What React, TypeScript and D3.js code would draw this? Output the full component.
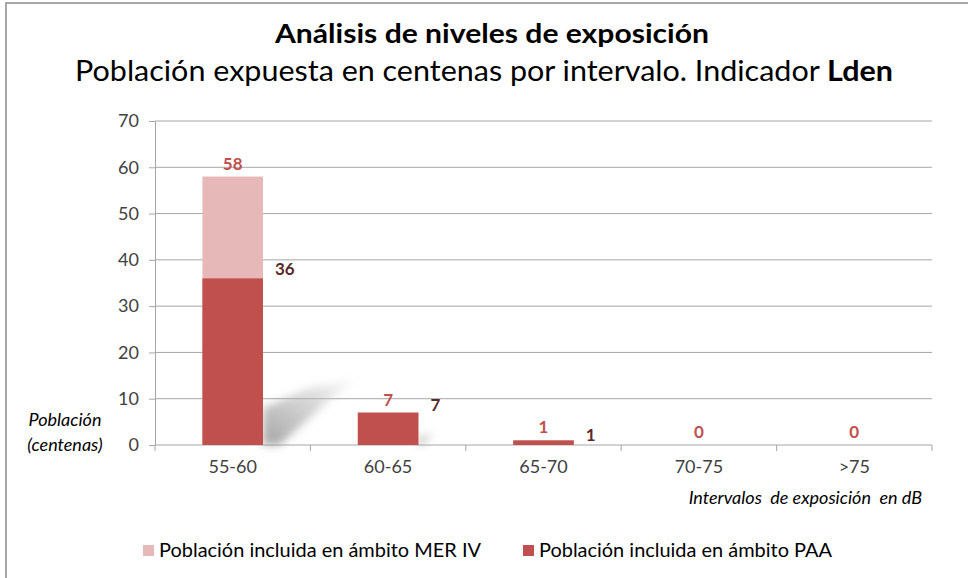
import React, { useRef, useEffect } from 'react'
import { select, scaleBand, scaleLinear, axisLeft } from 'd3'

// chart values
const categories = ['55-60', '60-65', '65-70', '70-75', '>75']
const merIV = [58, 7, 1, 0, 0] // Población incluida en ámbito MER IV
const paa = [36, 7, 1, 0, 0] // Población incluida en ámbito PAA
const yTicks = [0, 10, 20, 30, 40, 50, 60, 70]

const title = 'Análisis de niveles de exposición'
const subtitleMain = 'Población expuesta en centenas por intervalo. Indicador '
const subtitleBold = 'Lden'
const legendLabels = ['Población incluida en ámbito MER IV', 'Población incluida en ámbito PAA']

const FONT = 'Lato, "Open Sans", sans-serif'
const PINK = '#e6b9b8'
const RED = '#c0504d'
const DARK_LABEL = '#5a2a2a'

const App = () => {
    const svgRef = useRef<SVGSVGElement>(null)

    useEffect(() => {
        const svg = select(svgRef.current)
        svg.selectAll('*').remove()

        const W = 968
        const H = 578
        const plot = { left: 155, right: 932, top: 121, bottom: 445 }

        // outer frame (right / bottom edges fall off the picture)
        svg.append('rect')
            .attr('x', 6).attr('y', 3)
            .attr('width', W + 20).attr('height', H + 20)
            .attr('fill', '#fff')
            .attr('stroke', '#8a8a8a')
            .attr('stroke-width', 1.5)

        // titles
        svg.append('text')
            .attr('x', 492).attr('y', 43)
            .attr('text-anchor', 'middle')
            .attr('font-family', FONT)
            .attr('font-size', 26)
            .attr('font-weight', 'bold')
            .attr('fill', '#000')
            .attr('textLength', 434)
            .attr('lengthAdjust', 'spacingAndGlyphs')
            .text(title)

        const sub = svg.append('text')
            .attr('x', 484).attr('y', 81)
            .attr('text-anchor', 'middle')
            .attr('font-family', FONT)
            .attr('font-size', 28)
            .attr('fill', '#000')
            .attr('textLength', 818)
            .attr('lengthAdjust', 'spacingAndGlyphs')
        sub.append('tspan').text(subtitleMain)
        sub.append('tspan').attr('font-weight', 'bold').text(subtitleBold)

        // scales
        const x = scaleBand<string>()
            .domain(categories)
            .range([plot.left, plot.right])
            .paddingInner(0)
            .paddingOuter(0)
        const y = scaleLinear()
            .domain([0, 70])
            .range([plot.bottom, plot.top])

        const barW = x.bandwidth() * 0.39
        const barX = (c: string) => (x(c) as number) + (x.bandwidth() - barW) / 2

        // gridlines
        svg.append('g')
            .selectAll('line')
            .data(yTicks.filter(t => t > 0))
            .enter()
            .append('line')
            .attr('x1', plot.left).attr('x2', plot.right)
            .attr('y1', d => y(d)).attr('y2', d => y(d))
            .attr('stroke', '#a6a6a6')
            .attr('stroke-width', 1)

        // y axis
        const yAxis = svg.append('g')
            .attr('transform', `translate(${plot.left},0)`)
            .call(axisLeft(y).tickValues(yTicks).tickSize(6).tickPadding(10))
        yAxis.select('.domain').attr('stroke', '#a6a6a6')
        yAxis.selectAll('.tick line').attr('stroke', '#a6a6a6')
        yAxis.selectAll('.tick text')
            .attr('font-family', FONT)
            .attr('font-size', 18)
            .attr('fill', '#404040')

        // x axis (ticks on category boundaries)
        const boundaries = [...categories.map(c => x(c) as number), plot.right]
        const xg = svg.append('g')
        xg.append('line')
            .attr('x1', plot.left).attr('x2', plot.right)
            .attr('y1', plot.bottom).attr('y2', plot.bottom)
            .attr('stroke', '#a6a6a6')
        xg.selectAll('line.tk')
            .data(boundaries)
            .enter()
            .append('line')
            .attr('class', 'tk')
            .attr('x1', d => d).attr('x2', d => d)
            .attr('y1', plot.bottom).attr('y2', plot.bottom + 6)
            .attr('stroke', '#a6a6a6')
        xg.selectAll('text')
            .data(categories)
            .enter()
            .append('text')
            .attr('x', d => (x(d) as number) + x.bandwidth() / 2)
            .attr('y', plot.bottom + 28)
            .attr('text-anchor', 'middle')
            .attr('font-family', FONT)
            .attr('font-size', 18)
            .attr('fill', '#404040')
            .text(d => d)

        // soft cast shadows behind the PAA bars
        const defs = svg.append('defs')
        defs.append('filter')
            .attr('id', 'blur')
            .attr('x', '-50%').attr('y', '-50%')
            .attr('width', '200%').attr('height', '200%')
            .append('feGaussianBlur')
            .attr('stdDeviation', 4)
        const grad = defs.append('linearGradient')
            .attr('id', 'shade')
            .attr('x1', '0').attr('y1', '1').attr('x2', '1').attr('y2', '0')
        grad.append('stop').attr('offset', '0').attr('stop-color', '#8c8c8c').attr('stop-opacity', 0.8)
        grad.append('stop').attr('offset', '0.55').attr('stop-color', '#b0b0b0').attr('stop-opacity', 0.55)
        grad.append('stop').attr('offset', '1').attr('stop-color', '#d0d0d0').attr('stop-opacity', 0.15)

        svg.append('g')
            .selectAll('polygon')
            .data(categories.map((c, i) => ({ c, v: paa[i] })).filter(d => d.v > 1))
            .enter()
            .append('polygon')
            .attr('points', d => {
                const xr = barX(d.c) + barW
                const y0 = y(0)
                const h = y0 - y(d.v)
                return [
                    [xr, y0],
                    [xr, y0 - 0.22 * h],
                    [xr + 0.3 * h, y0 - 0.35 * h],
                    [xr + 0.56 * h, y0 - 0.39 * h],
                    [xr + 0.42 * h, y0 - 0.29 * h],
                    [xr + 0.1 * h, y0],
                ].map(p => p.join(',')).join(' ')
            })
            .attr('fill', 'url(#shade)')
            .attr('filter', 'url(#blur)')

        // bars: MER IV behind, PAA in front
        svg.append('g')
            .selectAll('rect')
            .data(categories.map((c, i) => ({ c, v: merIV[i] })))
            .enter()
            .append('rect')
            .attr('x', d => barX(d.c))
            .attr('y', d => y(d.v))
            .attr('width', barW)
            .attr('height', d => y(0) - y(d.v))
            .attr('fill', PINK)

        svg.append('g')
            .selectAll('rect')
            .data(categories.map((c, i) => ({ c, v: paa[i] })))
            .enter()
            .append('rect')
            .attr('x', d => barX(d.c))
            .attr('y', d => y(d.v))
            .attr('width', barW)
            .attr('height', d => y(0) - y(d.v))
            .attr('fill', RED)

        // value labels
        svg.append('g')
            .selectAll('text')
            .data(categories.map((c, i) => ({ c, v: merIV[i] })))
            .enter()
            .append('text')
            .attr('x', d => (x(d.c) as number) + x.bandwidth() / 2)
            .attr('y', d => y(d.v) - 7)
            .attr('text-anchor', 'middle')
            .attr('font-family', FONT)
            .attr('font-size', 17)
            .attr('font-weight', 'bold')
            .attr('fill', '#c0504d')
            .text(d => d.v)

        svg.append('g')
            .selectAll('text')
            .data(categories.map((c, i) => ({ c, v: paa[i] })).filter(d => d.v > 0))
            .enter()
            .append('text')
            .attr('x', d => barX(d.c) + barW + 12)
            .attr('y', d => y(d.v) + 1 - Math.min(d.v, 10) * 0.4)
            .attr('font-family', FONT)
            .attr('font-size', 17)
            .attr('font-weight', 'bold')
            .attr('fill', DARK_LABEL)
            .text(d => d.v)

        // axis titles
        const yTitle = svg.append('g')
            .attr('font-family', FONT)
            .attr('font-size', 18)
            .attr('font-style', 'italic')
            .attr('fill', '#000')
            .attr('text-anchor', 'middle')
        yTitle.append('text').attr('x', 65).attr('y', 426).text('Población')
        yTitle.append('text').attr('x', 65).attr('y', 451).text('(centenas)')

        svg.append('text')
            .attr('x', 922).attr('y', 504)
            .attr('text-anchor', 'end')
            .attr('font-family', FONT)
            .attr('font-size', 18)
            .attr('font-style', 'italic')
            .attr('fill', '#000')
            .style('white-space', 'pre')
            .text('Intervalos  de exposición  en dB')

        // legend
        const legendX = [143, 523]
        const legendW = [322, 293]
        const leg = svg.append('g')
            .selectAll('g')
            .data(legendLabels)
            .enter()
            .append('g')
            .attr('transform', (d, i) => `translate(${legendX[i]},545)`)
        leg.append('rect')
            .attr('width', 11).attr('height', 11)
            .attr('fill', (d, i) => (i === 0 ? PINK : RED))
        leg.append('text')
            .attr('x', 16).attr('y', 12)
            .attr('font-family', FONT)
            .attr('font-size', 20)
            .attr('fill', '#000')
            .attr('textLength', (d, i) => legendW[i])
            .attr('lengthAdjust', 'spacingAndGlyphs')
            .text(d => d)
    }, [])

    return (
        <svg
            ref={svgRef}
            width={968}
            height={578}
            style={{ position: 'absolute', left: 0, top: 0, background: '#fff' }}
        ></svg>
    )
}

export default App
